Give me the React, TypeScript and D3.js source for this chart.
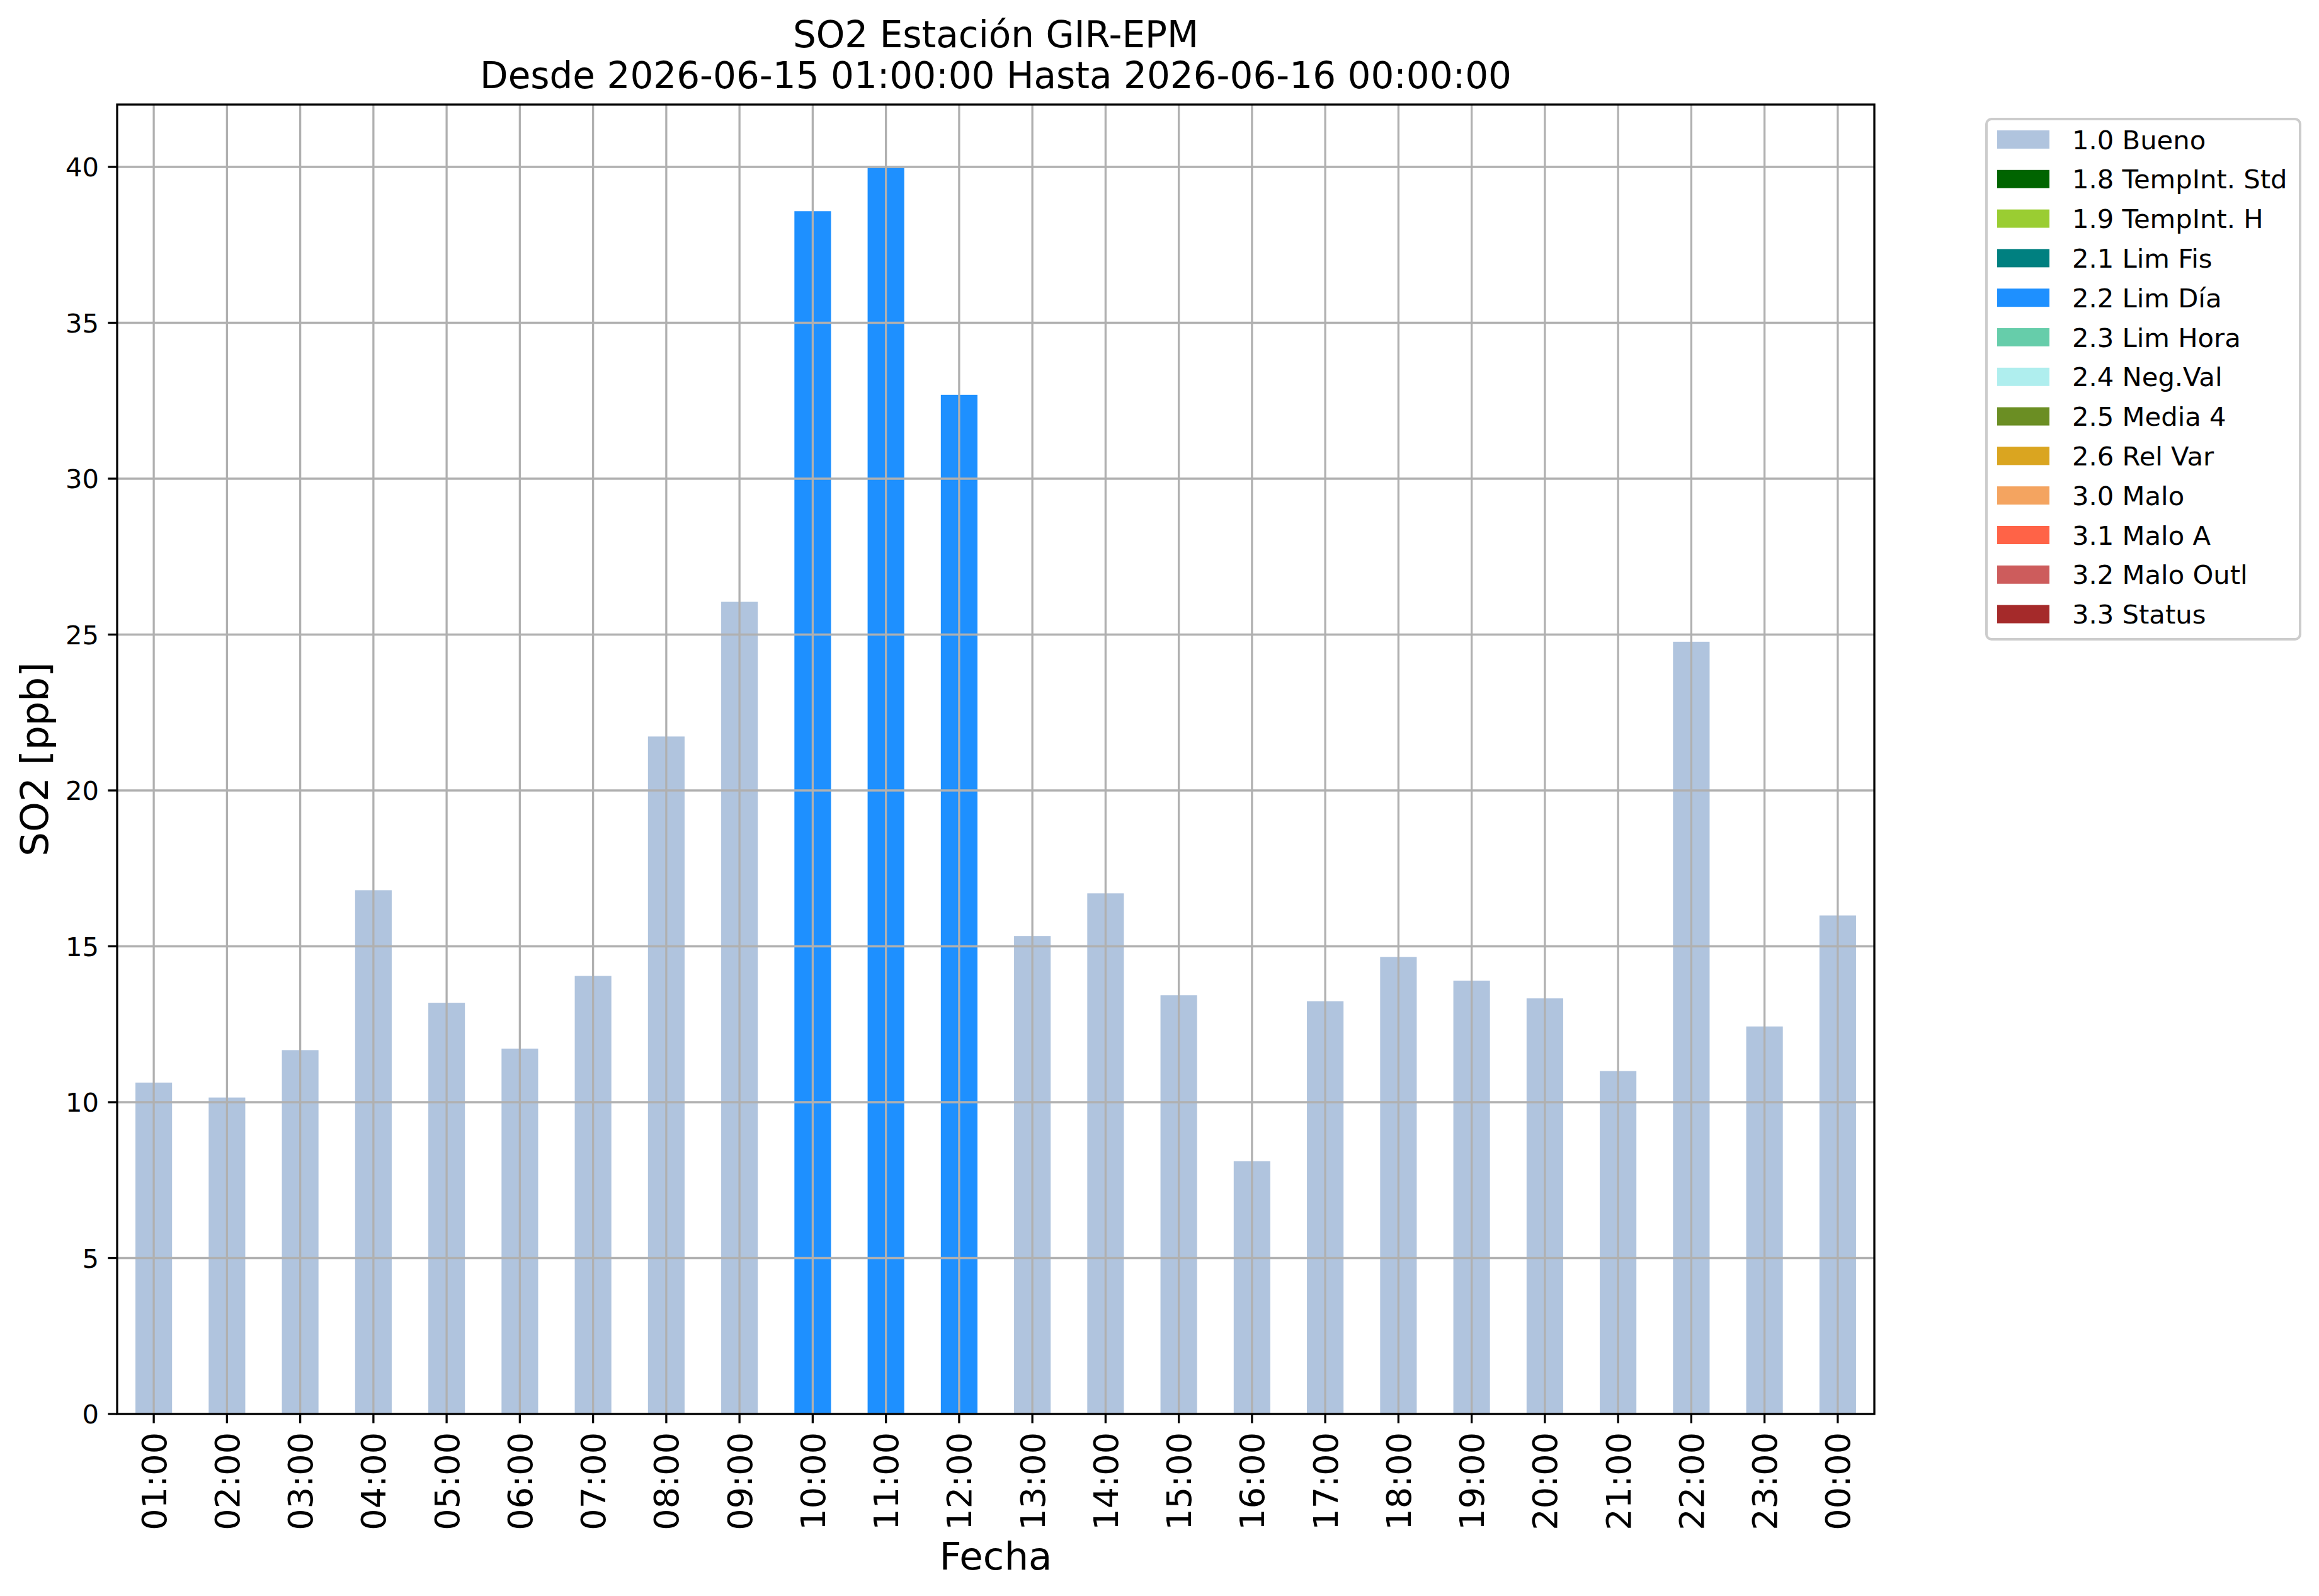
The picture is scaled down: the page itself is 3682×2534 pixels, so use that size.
import { useEffect } from 'react';
import * as d3 from 'd3';

const hours = [
  '01:00', '02:00', '03:00', '04:00', '05:00', '06:00', '07:00', '08:00',
  '09:00', '10:00', '11:00', '12:00', '13:00', '14:00', '15:00', '16:00',
  '17:00', '18:00', '19:00', '20:00', '21:00', '22:00', '23:00', '00:00',
];

const so2Values = [
  10.63, 10.15, 11.67, 16.8, 13.19, 11.72, 14.05, 21.73,
  26.05, 38.58, 39.97, 32.69, 15.33, 16.7, 13.43, 8.11,
  13.24, 14.66, 13.9, 13.33, 11.0, 24.77, 12.43, 15.99,
];

const hourFlags = [
  '1.0 Bueno', '1.0 Bueno', '1.0 Bueno', '1.0 Bueno', '1.0 Bueno', '1.0 Bueno',
  '1.0 Bueno', '1.0 Bueno', '1.0 Bueno', '2.2 Lim Día', '2.2 Lim Día', '2.2 Lim Día',
  '1.0 Bueno', '1.0 Bueno', '1.0 Bueno', '1.0 Bueno', '1.0 Bueno', '1.0 Bueno',
  '1.0 Bueno', '1.0 Bueno', '1.0 Bueno', '1.0 Bueno', '1.0 Bueno', '1.0 Bueno',
];

const flagLabels = [
  '1.0 Bueno', '1.8 TempInt. Std', '1.9 TempInt. H', '2.1 Lim Fis', '2.2 Lim Día',
  '2.3 Lim Hora', '2.4 Neg.Val', '2.5 Media 4', '2.6 Rel Var', '3.0 Malo',
  '3.1 Malo A', '3.2 Malo Outl', '3.3 Status',
];

const flagColors = [
  '#b0c4de', '#006400', '#9acd32', '#008080', '#1e90ff',
  '#66cdaa', '#afeeee', '#6b8e23', '#daa520', '#f4a460',
  '#ff6347', '#cd5c5c', '#a52a2a',
];

const yTicks = [0, 5, 10, 15, 20, 25, 30, 35, 40];

const W = 3682;
const H = 2534;
const plot = { left: 186, right: 2976, top: 166, bottom: 2245 };
const font = '"DejaVu Sans", Verdana, sans-serif';

function App() {
  useEffect(() => {
    document.body.style.margin = '0';
  }, []);

  const x = d3
    .scaleBand<string>()
    .domain(hours)
    .range([plot.left, plot.right])
    .paddingInner(0.5)
    .paddingOuter(0.25);

  const y = d3.scaleLinear().domain([0, 42]).range([plot.bottom, plot.top]);

  const color = d3.scaleOrdinal<string, string>().domain(flagLabels).range(flagColors);

  const center = (h: string) => (x(h) ?? 0) + x.bandwidth() / 2;
  const midX = (plot.left + plot.right) / 2;
  const midY = (plot.top + plot.bottom) / 2;

  const legendTop = 207;
  const legendStep = 62.8;

  return (
    <svg width={W} height={H} style={{ display: 'block', background: '#fff' }} fontFamily={font}>
      <rect x={0} y={0} width={W} height={H} fill="#fff" />

      {/* bars */}
      {hours.map((h, i) => (
        <rect
          key={h}
          x={x(h)}
          y={y(so2Values[i])}
          width={x.bandwidth()}
          height={y(0) - y(so2Values[i])}
          fill={color(hourFlags[i])}
        />
      ))}

      {/* grid on top of bars */}
      <g stroke="#b0b0b0" strokeWidth={3.3}>
        {hours.map(h => (
          <line key={h} x1={center(h)} x2={center(h)} y1={plot.top} y2={plot.bottom} />
        ))}
        {yTicks.map(t => (
          <line key={t} x1={plot.left} x2={plot.right} y1={y(t)} y2={y(t)} />
        ))}
      </g>

      {/* frame */}
      <rect
        x={plot.left}
        y={plot.top}
        width={plot.right - plot.left}
        height={plot.bottom - plot.top}
        fill="none"
        stroke="#000"
        strokeWidth={3.3}
      />

      {/* y axis */}
      <g>
        {yTicks.map(t => (
          <g key={t}>
            <line x1={plot.left - 14.6} x2={plot.left} y1={y(t)} y2={y(t)} stroke="#000" strokeWidth={3.3} />
            <text x={plot.left - 29} y={y(t)} dy="0.36em" textAnchor="end" fontSize={41.7}>
              {t}
            </text>
          </g>
        ))}
      </g>

      {/* x axis */}
      <g>
        {hours.map(h => (
          <g key={h}>
            <line
              x1={center(h)}
              x2={center(h)}
              y1={plot.bottom}
              y2={plot.bottom + 14.6}
              stroke="#000"
              strokeWidth={3.3}
            />
            <text
              transform={`translate(${center(h)},${plot.bottom + 29}) rotate(-90)`}
              dy="0.36em"
              textAnchor="end"
              fontSize={54}
            >
              {h}
            </text>
          </g>
        ))}
      </g>

      {/* labels */}
      <text x={midX} y={2492} textAnchor="middle" fontSize={61}>
        Fecha
      </text>
      <text transform={`translate(76,${midY}) rotate(-90)`} textAnchor="middle" fontSize={61}>
        SO2 [ppb]
      </text>
      <text x={midX} y={75} textAnchor="middle" fontSize={58}>
        SO2 Estación GIR-EPM
      </text>
      <text x={midX} y={140} textAnchor="middle" fontSize={58}>
        Desde 2026-06-15 01:00:00 Hasta 2026-06-16 00:00:00
      </text>

      {/* legend */}
      <rect
        x={3154}
        y={189}
        width={498}
        height={826}
        rx={8}
        fill="#fff"
        fillOpacity={0.8}
        stroke="#cccccc"
        strokeWidth={4}
      />
      {flagLabels.map((lab, i) => (
        <g key={lab}>
          <rect x={3171} y={legendTop + i * legendStep} width={83} height={29} fill={color(lab)} />
          <text x={3290} y={legendTop + i * legendStep + 29.5} fontSize={41.7}>
            {lab}
          </text>
        </g>
      ))}
    </svg>
  );
}

export default App;
